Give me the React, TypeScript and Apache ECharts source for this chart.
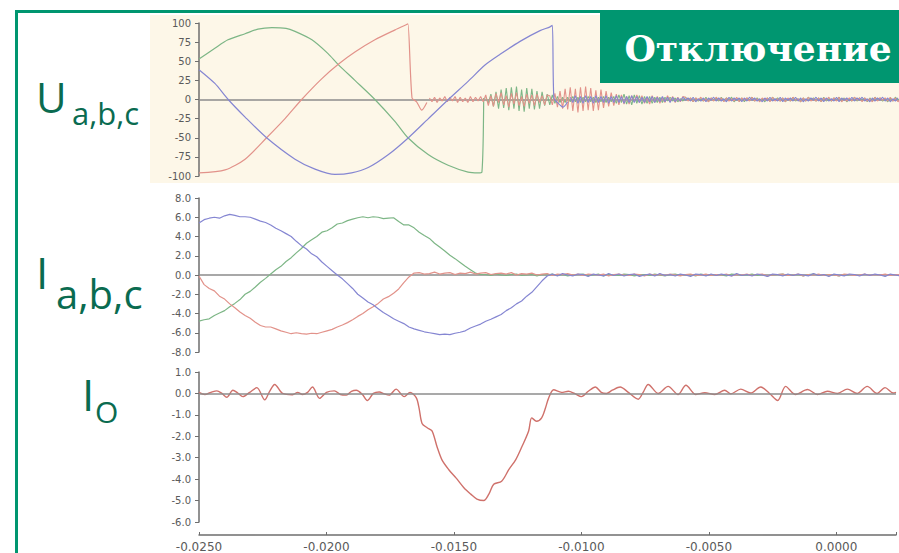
import React, { useEffect, useRef } from "react";
import * as echarts from "echarts";

// ---------- shared time axis ----------
const X_MIN = -0.025;
const X_MAX = 0.00234;
const X_TICK = 0.005;
const xTickLabels = ["-0.0250", "-0.0200", "-0.0150", "-0.0100", "-0.0050", "0.0000"];

// ---------- panel 1: U a,b,c (percent) ----------
const uGreenMain: [number, number][] = [
  [-0.025, 53], [-0.02438, 67], [-0.02387, 78], [-0.0232, 86], [-0.0227, 92], [-0.02215, 94],
  [-0.0216, 93], [-0.02125, 89], [-0.02059, 78], [-0.01996, 60], [-0.01957, 46], [-0.01891, 25],
  [-0.01813, 0], [-0.01734, -29], [-0.01684, -50], [-0.01605, -72], [-0.01527, -86],
  [-0.01449, -95], [-0.0141, -96], [-0.01395, -95], [-0.01388, 2],
];
const uRedMain: [number, number][] = [
  [-0.025, -96], [-0.02398, -92], [-0.0232, -78], [-0.02236, -50], [-0.02164, -25], [-0.02099, 0],
  [-0.02021, 27], [-0.01956, 46], [-0.01891, 62], [-0.01813, 78], [-0.01734, 91], [-0.01689, 98],
  [-0.01684, 99], [-0.01668, 2], [-0.0165, -3], [-0.0163, -14], [-0.0161, -4],
];
const uBlueMain: [number, number][] = [
  [-0.025, 39], [-0.02438, 21], [-0.02386, 0], [-0.0232, -23], [-0.02236, -50], [-0.02125, -78],
  [-0.02047, -91], [-0.01969, -98], [-0.01904, -96], [-0.01839, -89], [-0.0176, -72],
  [-0.01682, -50], [-0.01604, -25], [-0.01526, 0], [-0.01448, 24], [-0.01383, 45], [-0.01324, 59],
  [-0.01246, 76], [-0.01168, 90], [-0.01129, 95], [-0.0112, 97], [-0.01114, 2], [-0.011, -4],
  [-0.01078, -10], [-0.0106, -3],
];

// post-interruption oscillation, sampled every U_DT
const U_DT = 0.0001;
const uRedNoiseT0 = -0.016;
const uRedNoise = [
  2, -3, 3, -4, 2, -2, 4, -3, 3, -2, 4, -4, 3, -3, 2, -4, 4, -3, 3, -2, 4, -3,
  6, -8, 5, -9, 8, -4, 9, -7, 5, -10, 8, -6, 9, -8, 4, -9, 7, -5, 6, -8, 7, -4, 5, -7, 6,
  5, -7, 8, -10, 11, -12, 14, -13, 16, -15, 14, -17, 16, -15, 17, -14, 15, -15, 12, -14, 13, -11, 11, -9, 9, -8, 7, -7,
  6, -6, 4, -6, 5, -3, 6, -4, 5, -5, 3, -6, 5, -4, 4, -5, 3, -4, 5, -3, 4, -4, 3, -3, 4,
  3, -2, 2, -3, 2, -1, 3, -2, 1, -3, 2, -2, 3, -1, 2, -3, 2, -2, 1, -2,
  3, -3, 2, -1, 2, -2, 3, -2, 1, -3, 2, -1, 2, -3, 3, -2, 1, -2, 2, -3,
  2, -2, 3, -1, 1, -3, 2, -2, 3, -2, 1, -2, 2, -3, 2, -1, 3, -2, 2, -2,
  3, -3, 1, -2, 2, -2, 3, -1, 2, -3, 2, -2, 1, -3, 3, -2, 2, -1, 2, -2,
  3, -2, 2, -3, 1, -2,
];
const uGreenNoiseT0 = -0.0138;
const uGreenNoise = [
  3, -5, 7, -9, 10,
  -12, 13, -11, 15, -14, 16, -12, 17, -15, 13, -16, 15, -12, 14, -13, 11, -12, 10, -8, 7,
  -7, 6, -5, 4, -4, 3, -4, 3, -3, 4,
  -3, 3, -4, 3, -3, 4, -3, 3, -4, 3, -3, 4, -4, 3, -3, 4,
  -5, 6, -4, 7, -6, 5, -7, 6, -5, 5, -6, 4, -5, 4, -5, 3, -4, 3, -4, 3,
  -2, 3, -2, 2, -3, 1, -2, 3, -1, 2, -3, 2, -2, 1, -2, 3, -3, 2, -1, 2,
  -2, 3, -2, 2, -1, 3, -3, 1, -2, 2, -3, 2, -1, 3, -2, 2, -2, 1, -3, 2,
  -2, 3, -1, 2, -2, 2, -3, 1, -2, 3, -2, 1, -3, 2, -2, 3, -1, 2, -2, 2,
  -3, 3, -2, 1, -2, 2, -1, 3, -2, 2, -3, 1, -2, 3, -2, 2, -1, 2, -3, 2,
  -2, 3, -1, 2, -2, 1, -3, 2, -2, 3, -1, 2, -2,
];
const uBlueNoiseT0 = -0.0105;
const uBlueNoise = [
  3, -4, 5, -5, 4, -5, 5, -4, 4, -5, 5, -4, 4, -4, 5, -5, 4, -4, 5, -4,
  4, -5, 4, -4, 5, -4, 4, -4, 3, -4, 4, -3, 4, -4, 3, -3, 4, -3, 3, -4, 3,
  -3, 2, -2, 3, -1, 2, -2, 3, -3, 1, -2, 2, -3, 2, -1, 3, -2, 2, -2, 1,
  -3, 3, -2, 2, -1, 2, -3, 2, -2, 3, -1, 2, -2, 1, -3, 2, -2, 3, -2, 1,
  -2, 3, -3, 2, -1, 2, -2, 3, -2, 2, -3, 1, -2, 2, -1, 3, -2, 2, -3, 2,
  -2, 1, -2, 3, -3, 2, -1, 2, -2, 3, -2, 2, -1, 3, -2, 1, -3, 2, -2, 2,
  -1, 3, -2, 2, -3, 1, -2, 2,
];

// ---------- panel 2: I a,b,c (sampled every I_DT from I_T0) ----------
const I_T0 = -0.025;
const I_DT = 0.0002;
const iBlue = [
  5.4, 5.75, 5.9, 6.0, 5.9, 6.15, 6.3, 6.2, 6.05, 6.05,
  6.0, 5.8, 5.6, 5.45, 5.2, 4.85, 4.6, 4.3, 4.0, 3.5,
  3.05, 2.7, 2.2, 1.9, 1.35, 0.9, 0.45, 0.0, -0.4, -0.9,
  -1.4, -2.0, -2.4, -2.8, -3.1, -3.5, -3.9, -4.2, -4.55, -4.8,
  -5.05, -5.4, -5.6, -5.75, -5.9, -6.0, -6.1, -6.2, -6.15, -6.2,
  -6.05, -5.95, -5.8, -5.5, -5.3, -5.1, -4.8, -4.6, -4.35, -4.1,
  -3.7, -3.4, -3.0, -2.7, -2.2, -1.8, -1.2, -0.6, -0.1, 0.1,
  -0.1, 0.15, 0.0, -0.1, 0.1, 0.05, -0.15, 0.1, 0.0, -0.1,
  0.15, -0.05, 0.1, -0.1, 0.05, 0.1, -0.15, 0.0, 0.1, -0.1,
  0.15, -0.05, 0.05, -0.1, 0.1, 0.0, -0.15, 0.1, 0.05, -0.1,
  0.1, -0.05, 0.1, 0.0, -0.1, 0.15, -0.05, 0.05, -0.1, 0.1,
  0.0, -0.15, 0.1, 0.05, -0.1, 0.1, -0.05, 0.1, 0.0, -0.1,
  0.15, -0.05, 0.05, -0.15, 0.1, 0.0, -0.1, 0.1, 0.05, -0.1,
  0.1, -0.05, 0.1, 0.0, -0.15, 0.1, 0.0, -0.1,
];
const iGreen = [
  -4.8, -4.65, -4.55, -4.2, -3.95, -3.7, -3.3, -2.95, -2.55, -2.0,
  -1.7, -1.25, -0.75, -0.35, 0.1, 0.55, 0.9, 1.4, 1.8, 2.3,
  2.75, 3.3, 3.65, 4.0, 4.45, 4.6, 4.9, 5.3, 5.4, 5.65,
  5.8, 5.95, 6.05, 5.95, 6.05, 6.0, 5.85, 5.9, 5.95, 5.55,
  5.2, 5.2, 4.9, 4.45, 4.1, 3.8, 3.3, 2.9, 2.5, 2.05,
  1.7, 1.3, 0.9, 0.55, 0.2, 0.05,
  0.05, -0.05, 0.1, 0.0, -0.05, 0.05, 0.1, -0.05, 0.0, 0.05,
  -0.1, 0.05, 0.0, 0.1, -0.05, 0.05, -0.1, 0.0, 0.05, 0.1,
  -0.05, 0.0, 0.1, -0.1, 0.05, 0.0, -0.05, 0.1, 0.05, -0.1,
  0.0, 0.05, -0.05, 0.1, 0.0, -0.1, 0.05, 0.1, -0.05, 0.0,
  0.05, -0.1, 0.1, 0.0, -0.05, 0.05, 0.0, -0.1, 0.1, 0.05,
  -0.05, 0.0, 0.1, -0.05, 0.05, -0.1, 0.0, 0.05, 0.1, -0.05,
  0.0, 0.05, -0.1, 0.05, 0.1, 0.0, -0.05, 0.05, 0.0, -0.1,
  0.05, 0.0,
];
const iRed = [
  -0.1, -1.0, -1.4, -1.65, -2.2, -2.5, -3.0, -3.4, -3.85, -4.2,
  -4.5, -4.9, -5.25, -5.4, -5.4, -5.6, -5.8, -5.95, -6.1, -6.0,
  -6.1, -6.15, -6.05, -6.1, -5.95, -5.8, -5.65, -5.4, -5.2, -4.95,
  -4.65, -4.3, -4.0, -3.6, -3.3, -2.95, -2.5, -2.25, -1.9, -1.45,
  -0.8, -0.2, 0.2,
  0.25, 0.1, 0.15, 0.3, 0.1, 0.2, 0.25, 0.05, 0.2, 0.15,
  0.3, 0.1, 0.2, 0.25, 0.05, 0.15, 0.2, 0.1, 0.25, 0.0,
  0.15, 0.1, 0.2, 0.0, 0.1, 0.15, -0.05, 0.1, 0.05, 0.15,
  0.0, 0.1, -0.05, 0.1, 0.05, 0.0, 0.1, -0.1, 0.05, 0.1,
  0.0, -0.05, 0.1, 0.05, -0.1, 0.1, 0.0, 0.05, -0.05, 0.1,
  0.0, -0.1, 0.05, 0.1, -0.05, 0.0, 0.1, -0.05, 0.05, 0.0,
  0.1, -0.1, 0.05, 0.0, 0.1, -0.05, 0.05, 0.1, -0.1, 0.0,
  0.05, 0.1, -0.05, 0.0, 0.1, -0.1, 0.05, 0.0, 0.1, -0.05,
  0.05, 0.0, -0.1, 0.1, 0.05, -0.05, 0.0, 0.1, -0.05, 0.05,
  0.0, 0.1, -0.05, 0.05, 0.0,
];

// ---------- panel 3: I0 ----------
const i0Data: [number, number][] = [
  [-0.025, 0.05], [-0.02477, -0.05], [-0.02453, 0.05], [-0.0243, 0.12], [-0.0241, 0], [-0.02391, -0.18],
  [-0.02367, 0.15], [-0.02348, 0.02], [-0.02328, -0.15], [-0.02301, 0.05], [-0.02273, 0.27],
  [-0.02242, -0.3], [-0.02223, 0.1], [-0.02203, 0.42], [-0.02172, 0], [-0.02133, -0.06],
  [-0.02113, 0.05], [-0.02094, -0.05], [-0.02074, 0.05], [-0.02055, 0.3], [-0.02027, -0.23],
  [-0.02, 0.05], [-0.01969, 0.12], [-0.01945, -0.05], [-0.01922, -0.08], [-0.01902, 0.1],
  [-0.01883, 0.15], [-0.01859, -0.05], [-0.0184, -0.33], [-0.01816, 0], [-0.01793, 0.07],
  [-0.01773, -0.02], [-0.01754, -0.08], [-0.01727, 0.2], [-0.01695, -0.15], [-0.01672, 0.05],
  [-0.01648, -0.2], [-0.01637, -0.67], [-0.01625, -1.4], [-0.01605, -1.6], [-0.01586, -1.75],
  [-0.01566, -2.5], [-0.01547, -3.1], [-0.0152, -3.56], [-0.01492, -3.94], [-0.01461, -4.4],
  [-0.01434, -4.7], [-0.0141, -4.93], [-0.01383, -5.0], [-0.01363, -4.7], [-0.01344, -4.24],
  [-0.01313, -4.1], [-0.01285, -3.56], [-0.01258, -3.1], [-0.01234, -2.5], [-0.01207, -1.75],
  [-0.01195, -1.14], [-0.01176, -1.3], [-0.01156, -1.14], [-0.01141, -0.68], [-0.01129, -0.23],
  [-0.01109, 0.17], [-0.01078, 0.05], [-0.01051, 0.1], [-0.01027, 0], [-0.01, -0.15],
  [-0.00973, 0.1], [-0.00945, 0.3], [-0.00922, 0.05], [-0.00902, 0], [-0.00879, 0.15],
  [-0.00848, 0.3], [-0.00816, 0.05], [-0.00777, -0.27], [-0.00758, 0.05], [-0.00738, 0.42],
  [-0.00699, 0], [-0.0066, 0.33], [-0.00621, -0.05], [-0.0059, 0.38], [-0.00551, -0.05],
  [-0.00516, 0.03], [-0.00477, -0.05], [-0.00438, 0.15], [-0.00414, -0.02], [-0.00375, 0.2],
  [-0.00336, 0.02], [-0.00297, 0.3], [-0.00262, 0], [-0.0023, -0.33], [-0.00199, 0.33],
  [-0.0016, -0.05], [-0.00113, 0.18], [-0.00074, -0.05], [-0.00035, 0.1], [0.00004, 0],
  [0.00043, 0.2], [0.00082, 0], [0.00121, 0.33], [0.0016, 0], [0.00191, 0.27], [0.00223, 0.02],
  [0.00234, 0.05],
];

// ---------- look ----------
const RED = "#e2928a";
const GREEN = "#7db686";
const BLUE = "#8586d2";
const I0_RED = "#cf716b";
const DARK_GREEN = "#0a6b50";
const BRAND = "#009670";
const BEIGE = "#fdf7e8";

const sampled = (t0: number, dt: number, vals: number[]) =>
  vals.map((v, i) => [+(t0 + i * dt).toFixed(6), v]);

const isTick = (v: number) => Math.abs(v / X_TICK - Math.round(v / X_TICK)) < 1e-6;
const xLabel = (v: number) => {
  if (!isTick(v)) return "";
  const idx = Math.round((v - X_MIN) / X_TICK);
  return xTickLabels[idx] ?? "";
};

export default function App() {
  const ref = useRef<HTMLDivElement>(null);

  useEffect(() => {
    if (!ref.current) return;
    const chart = echarts.init(ref.current, undefined, { renderer: "svg" });

    const labelFont = { fontFamily: "DejaVu Sans", color: "#5a5a5a" };
    const grids = [
      { left: 199, right: 0, top: 23, height: 153 },
      { left: 199, right: 0, top: 198, height: 154 },
      { left: 199, right: 0, top: 372, height: 153 },
    ];
    const zeroXAxis = (gi: number) => ({
      type: "value",
      gridIndex: gi,
      min: X_MIN,
      max: X_MAX,
      interval: X_TICK,
      axisLine: { show: true, onZero: true, lineStyle: { color: "#8c8c8c", width: 1.5 } },
      axisTick: { show: false },
      axisLabel: { show: false },
      splitLine: { show: false },
    });
    const yAx = (gi: number, min: number, max: number, interval: number, fmt: (v: number) => string) => ({
      type: "value",
      gridIndex: gi,
      min,
      max,
      interval,
      position: "left",
      axisLine: { show: true, onZero: false, lineStyle: { color: "#6e6e6e", width: 1.5 } },
      axisTick: { show: true, length: 4, lineStyle: { color: "#6e6e6e" } },
      axisLabel: { ...labelFont, fontSize: 10, margin: 8, formatter: fmt },
      splitLine: { show: false },
    });
    const line = (data: any[], color: string, xi: number, width = 1.2, extra: any = {}) => ({
      type: "line",
      xAxisIndex: xi,
      yAxisIndex: xi,
      data,
      showSymbol: false,
      symbol: "none",
      silent: true,
      lineStyle: { color, width },
      ...extra,
    });
    const smoothMain = { smooth: 0.25 };

    chart.setOption({
      animation: false,
      backgroundColor: "#ffffff",
      grid: grids,
      xAxis: [
        zeroXAxis(0),
        zeroXAxis(1),
        {
          type: "value",
          gridIndex: 2,
          min: X_MIN,
          max: X_MAX,
          interval: X_TICK,
          position: "bottom",
          offset: 13,
          axisLine: { show: true, onZero: false, lineStyle: { color: "#6e6e6e", width: 1.5 } },
          axisTick: { show: true, inside: true, length: 3, lineStyle: { color: "#6e6e6e" } },
          axisLabel: { ...labelFont, fontSize: 12, margin: 6, formatter: xLabel },
          splitLine: { show: false },
        },
      ],
      yAxis: [
        yAx(0, -100, 100, 25, (v) => String(v)),
        yAx(1, -8, 8, 2, (v) => v.toFixed(1)),
        yAx(2, -6, 1, 1, (v) => v.toFixed(1)),
      ],
      series: [
        line(uGreenMain, GREEN, 0, 1.2, smoothMain),
        line(sampled(uGreenNoiseT0, U_DT, uGreenNoise), GREEN, 0, 1.1),
        line(uRedMain, RED, 0, 1.2, smoothMain),
        line(sampled(uRedNoiseT0, U_DT, uRedNoise), RED, 0, 1.1),
        line(uBlueMain, BLUE, 0, 1.2, smoothMain),
        line(sampled(uBlueNoiseT0, U_DT, uBlueNoise), BLUE, 0, 1.1),
        line(sampled(I_T0, I_DT, iGreen), GREEN, 1),
        line(sampled(I_T0, I_DT, iRed), RED, 1),
        line(sampled(I_T0, I_DT, iBlue), BLUE, 1),
        line(i0Data, I0_RED, 2, 1.4, {
          smooth: 0.3,
          markLine: {
            silent: true,
            symbol: "none",
            label: { show: false },
            lineStyle: { color: "#8c8c8c", width: 1.5, type: "solid" },
            data: [{ yAxis: 0 }],
          },
        }),
      ],
      graphic: {
        elements: [
          { type: "rect", z: -10, shape: { x: 150, y: 15, width: 749, height: 168 }, style: { fill: BEIGE } },
          { type: "rect", z: 50, shape: { x: 15, y: 10, width: 3, height: 543 }, style: { fill: BRAND } },
          { type: "rect", z: 50, shape: { x: 15, y: 10, width: 588, height: 3 }, style: { fill: BRAND } },
          { type: "rect", z: 50, shape: { x: 600, y: 10, width: 299, height: 73 }, style: { fill: BRAND } },
          {
            type: "text", z: 51, x: 758, y: 48,
            style: { text: "Отключение", fill: "#ffffff", font: "bold 36px 'DejaVu Serif'", textAlign: "center", textVerticalAlign: "middle" },
          },
          {
            type: "text", z: 51, x: 36, y: 96,
            style: { text: "U", fill: DARK_GREEN, font: "42px 'Open Sans'", textAlign: "left", textVerticalAlign: "middle" },
          },
          {
            type: "text", z: 51, x: 72, y: 113,
            style: { text: "a,b,c", fill: DARK_GREEN, font: "31px 'Open Sans'", textAlign: "left", textVerticalAlign: "middle" },
          },
          {
            type: "text", z: 51, x: 36, y: 272,
            style: { text: "I", fill: DARK_GREEN, font: "44px 'Open Sans'", textAlign: "left", textVerticalAlign: "middle" },
          },
          {
            type: "text", z: 51, x: 56, y: 293,
            style: { text: "a,b,c", fill: DARK_GREEN, font: "40px 'Open Sans'", textAlign: "left", textVerticalAlign: "middle" },
          },
          {
            type: "text", z: 51, x: 82, y: 394,
            style: { text: "I", fill: DARK_GREEN, font: "44px 'Open Sans'", textAlign: "left", textVerticalAlign: "middle" },
          },
          {
            type: "text", z: 51, x: 95, y: 411,
            style: { text: "O", fill: DARK_GREEN, font: "30px 'Open Sans'", textAlign: "left", textVerticalAlign: "middle" },
          },
        ],
      },
    });

    return () => chart.dispose();
  }, []);

  return (
    <div
      ref={ref}
      style={{ position: "fixed", left: 0, top: 0, width: 899, height: 553, background: "#fff" }}
    />
  );
}
